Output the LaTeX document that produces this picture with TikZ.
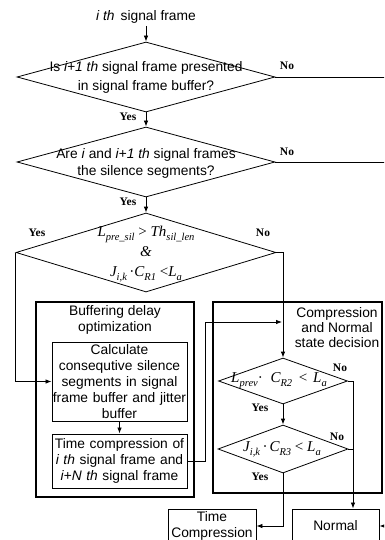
\documentclass[tikz,border=0pt]{standalone}
\usepackage{fontspec}
\setmainfont{Liberation Sans}
\newfontfamily\tms{Liberation Serif}
\usetikzlibrary{arrows.meta,shapes.geometric}
\newcommand\sbx[1]{\raisebox{-0.28em}{\fontsize{10.5}{10.5}\selectfont #1}}
\begin{document}
\begin{tikzpicture}[x=1pt,y=-1pt,
  line width=0.8pt,
  arr/.style={-{Latex[length=6pt,width=4.5pt]}},
  dia/.style={draw, diamond, inner sep=0pt, line width=0.8pt},
  txt/.style={font=\fontsize{13.8}{16}\selectfont, align=center, inner sep=0pt},
  yn/.style={font=\tms\bfseries\fontsize{11.5}{12}\selectfont, inner sep=0pt},
  fml/.style={font=\tms\itshape\fontsize{15}{20}\selectfont, align=center, inner sep=0pt},
  outerbox/.style={draw, line width=1.05pt, inner sep=0pt},
  inbox/.style={draw, line width=0.9pt, inner sep=0pt, align=center, font=\fontsize{13.8}{16}\selectfont},
]
\useasboundingbox (0,0) rectangle (384,540);
\clip (0,0) rectangle (384,540);

% title
\node[txt, inner sep=2pt] (title) at (146,17) {\textit{i th}\, signal frame};

% diamonds
\node[dia, minimum width=258pt, minimum height=70pt] (d1) at (146,77) {};
\node[txt, font=\fontsize{13.8}{19}\selectfont] (t1) at (146,77.5) {Is \textit{i+1 th} signal frame presented\\in signal frame buffer?};
\node[dia, minimum width=258pt, minimum height=70pt] (d2) at (146,162) {};
\node[txt, font=\fontsize{13.8}{17}\selectfont] (t2) at (146,163.5) {Are \textit{i} and \textit{i+1 th} signal frames\\the silence segments?};
\node[dia, minimum width=260pt, minimum height=79pt] (d3) at (146,252.5) {};
\node[fml] (t3) at (146,254) {L\sbx{pre\_sil} {\upshape >} Th\sbx{sil\_len}\\\&\\J\sbx{i,k}{\upshape\,·}C\sbx{R1} {\upshape <}L\sbx{a}};

% boxes
\node[outerbox, minimum width=158pt, minimum height=195pt] (buf) at (115,399.5) {};
\node[txt] (buft) at (115,320) {Buffering delay\\optimization};
\node[inbox, minimum width=135pt, minimum height=79pt, text width=135pt] (calc) at (119.5,381.5) {Calculate\\consequtive silence\\segments in signal\\frame buffer and jitter\\buffer};
\node[inbox, minimum width=135pt, minimum height=54pt, text width=135pt] (tc) at (119.5,461) {Time compression of\\\textit{i th} signal frame and\\\textit{i+N th} signal frame};

\node[outerbox, minimum width=169pt, minimum height=191pt] (cmp) at (297.5,397.5) {};
\node[txt, font=\fontsize{13.8}{15}\selectfont] (cmpt) at (337,328) {Compression\\and Normal\\state decision};

\node[dia, minimum width=129pt, minimum height=46pt] (d4) at (283,381) {};
\node[fml] (t4) at (279,381) {L\sbx{prev}{\upshape ·}\hspace{4pt} C\sbx{R2}\hspace{3pt} {\upshape <}\hspace{2pt} L\sbx{a}};
\node[dia, minimum width=130pt, minimum height=48pt] (d5) at (283,449) {};
\node[fml] (t5) at (282,449) {J\sbx{i,k}{\upshape\,·}\hspace{2pt}C\sbx{R3} {\upshape <} L\sbx{a}};

\node[inbox, minimum width=88pt, minimum height=34pt] (tcomp) at (212,526) {Time\\Compression};
\node[inbox, minimum width=87pt, minimum height=34pt] (normal) at (335.5,526) {Normal};

% coordinates
\coordinate (e1) at (392,77);
\coordinate (e2) at (392,162);
\coordinate (e3) at (392,526);
\coordinate (j1) at (205,322);
\coordinate (cmpin) at (282,322);
\coordinate (j2) at (353,381);

% connectors
\draw[arr] (title) -- (d1.north);
\draw (d1.east) -- (e1);
\draw[arr] (d1.south) -- (d2.north);
\draw (d2.east) -- (e2);
\draw[arr] (d2.south) -- (d3.north);
\draw[arr] (d3.west) |- (calc.west);
\draw[arr] (d3.east) -| (d4.north);
\draw[arr] (calc.south) -- (tc.north);
\draw[arr] (tc.east) -| (j1) -- (cmpin);
\draw[arr] (d4.south) -- (d5.north);
\draw (d4.east) -- (j2);
\draw[arr] (j2) -- (j2 |- normal.north);
\draw (d5.east) -- (d5.east -| j2);
\draw[arr] (d5.south) |- (tcomp.east);
\draw[arr] (e3) -- (normal.east);

% labels
\node[yn] (y1) at (128,117) {Yes};
\node[yn] (n1) at (287,66) {No};
\node[yn] (y2) at (128,202) {Yes};
\node[yn] (n2) at (287,152) {No};
\node[yn] (y3) at (37,233) {Yes};
\node[yn] (n3) at (263,233) {No};
\node[yn] (n4) at (340,368) {No};
\node[yn] (y4) at (260,408) {Yes};
\node[yn] (n5) at (337,437) {No};
\node[yn] (y5) at (260,477) {Yes};
\end{tikzpicture}
\end{document}
